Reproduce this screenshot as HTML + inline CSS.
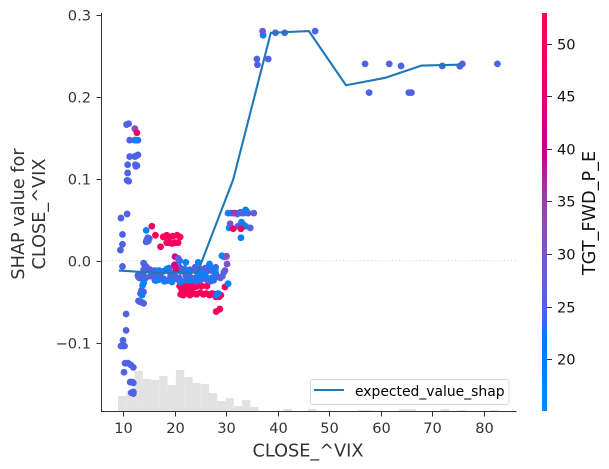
<!DOCTYPE html>
<html lang="en">
<head>
<meta charset="utf-8">
<title>SHAP dependence plot for CLOSE_^VIX</title>
<style>
html,body{margin:0;padding:0;background:#fff;width:609px;height:469px;overflow:hidden}
svg{display:block}
text{font-family:"DejaVu Sans","Liberation Sans",sans-serif}
</style>
</head>
<body>
<svg id="chart" xmlns="http://www.w3.org/2000/svg" width="609" height="469" viewBox="0 0 609 469">
  <defs>
    <linearGradient id="cbar-gradient" x1="0" y1="1" x2="0" y2="0"></linearGradient>
  </defs>
  <g id="hist"></g>
  <line x1="101.5" x2="516" y1="260.7" y2="260.7" stroke="#cccccc" stroke-width="1" stroke-dasharray="1 2.5"></line>
  <g id="dots"></g>
  <polyline id="trend" fill="none" stroke="#1f77b4" stroke-width="2.1" stroke-linejoin="round"></polyline>
  <g id="axes"></g>
  <g>
    <rect x="310.5" y="379.5" width="198.5" height="25" rx="2.5" fill="#fff" fill-opacity="0.85" stroke="#d9d9d9" stroke-width="1"></rect>
    <line x1="314" x2="344" y1="390" y2="390" stroke="#1f77b4" stroke-width="2.1"></line>
    <text x="355" y="396" font-size="13.9" fill="#000">expected_value_shap</text>
  </g>
  <text x="308" y="456.5" font-size="17.7" fill="#333" text-anchor="middle">CLOSE_^VIX</text>
  <text font-size="17.7" fill="#333" text-anchor="middle" transform="translate(24 214) rotate(-90)">SHAP value for</text>
  <text font-size="17.7" fill="#333" text-anchor="middle" transform="translate(45 214) rotate(-90)">CLOSE_^VIX</text>
  <rect x="542" y="13" width="5" height="398" fill="url(#cbar-gradient)"></rect>
  <g id="cbar-axis"></g>
  <text font-size="17.7" fill="#111" text-anchor="middle" transform="translate(595 213) rotate(-90)">TGT_FWD_P_E</text>
</svg>
<script>
const xTicks = [10, 20, 30, 40, 50, 60, 70, 80];
const yTicks = [-0.1, 0, 0.1, 0.2, 0.3];
const yTickLabels = ["\u22120.1", "0.0", "0.1", "0.2", "0.3"];
const cbarTicks = [20, 25, 30, 35, 40, 45, 50];
const histCounts = [15,20,40,32,31,35,26,41,34,28,27,18,10,13,5,11,4,0,0,0,2,0,0,2,0,0,0,0,0,1,1,0,0,0,2,2,0,0,0,2,0,1,0,0,0,1];
const histStart = 9.03;
const histBinWidth = 1.606;
const trendVix = [9.2, 17, 24.4, 24.8, 31.4, 38.7, 46.1, 53.3, 60.9, 68, 75.4];
const trendShap = [-0.012, -0.015, -0.014, -0.009, 0.099, 0.278, 0.280, 0.214, 0.223, 0.238, 0.239];

const redLowVix = [17.8,18.5,19.1,20.5,21.1,18.5,19.5,20.7,20.1,18.9,17.3,15.6,16.3,18.2,19.7,21,21.5,22,22.5,23,23.5,24,24.4,21.3,22,25.3,26.3,21.2,21.7,22.3,23,23.7,24.3,25,25.6,26.2,26.8,27.3,27.9,28.5,29,28,28.7,29.8,28.1,28.8,21.4,22.2,23.1,24.6];
const redLowShap = [0.029,0.031,0.029,0.031,0.029,0.022,0.021,0.022,0.022,0.022,0.017,0.042,0.031,0.03,0.03,-0.031,-0.032,-0.03,-0.033,-0.031,-0.03,-0.032,-0.031,-0.026,-0.027,-0.031,-0.031,-0.041,-0.042,-0.04,-0.042,-0.04,-0.041,-0.039,-0.041,-0.04,-0.042,-0.04,-0.041,-0.043,-0.042,-0.044,-0.044,-0.032,-0.062,-0.059,-0.035,-0.036,-0.035,-0.03];
const redLowPe = 50;

const mainVix = [
  10.7,11.1,11.3,12.3,12.9,11.3,12.3,12.6,12.9,10.9,12.4,12.7,12.5,10.9,10.8,11.1,9.6,10.8,9.9,9.9,9.5,9.9,
  10.6,10.6,10,9.6,10,10.3,10.4,11,11.5,12,10.2,11.4,11.8,12,11.6,12,12,
  12.9,13.2,13.6,14,14.4,13,13.5,14,13.8,13.4,14,13.6,13.3,13.7,14,13,
  14.6,14.9,15.1,14.8,14.5,
  14,14.3,14.6,14,14.9,15.3,15.7,16.2,
  16,16.9,17.8,19.1,19.9,21.2,22.1,22.9,24.2,25,26.1,27.1,28,
  15.3,16.2,17.2,17.9,19.2,20.1,20.9,22.2,23.1,24.1,25.2,26,27.2,27.9,28.6,
  16.2,17,18.2,19,20.2,21,22.1,23,24.1,25,26.2,27,27.6,
  19,21,22,23,24,25,26,27,28,
  31,31.9,32.5,33.1,34.3,34.7,33.4,32.2,32.8,33.5,34,
  36,36.1,38.2,39.6,41.4,47.3,57,57.8,61.7,64,65.5,66,72,75.4,75.9,82.7
];
const mainShap = [
  0.166,0.167,0.147,0.147,0.147,0.127,0.127,0.128,0.129,0.117,0.117,0.116,0.115,0.107,0.098,0.097,0.052,0.057,0.032,0.02,0.013,-0.007,
  -0.065,-0.085,-0.097,-0.104,-0.104,-0.104,-0.125,-0.125,-0.127,-0.13,-0.136,-0.148,-0.148,-0.149,-0.161,-0.16,-0.162,
  -0.018,-0.021,-0.02,-0.018,-0.021,-0.02,-0.017,-0.023,-0.039,-0.04,-0.038,-0.036,-0.05,-0.051,-0.052,-0.049,
  0.025,0.024,0.027,0.028,0.023,
  -0.003,-0.006,-0.008,-0.011,-0.011,-0.011,-0.013,-0.012,
  -0.014,-0.015,-0.013,-0.014,-0.016,-0.013,-0.015,-0.014,-0.013,-0.016,-0.014,-0.012,-0.015,
  -0.019,-0.021,-0.018,-0.022,-0.02,-0.019,-0.021,-0.018,-0.02,-0.021,-0.018,-0.02,-0.021,-0.018,-0.02,
  -0.024,-0.023,-0.025,-0.024,-0.022,-0.025,-0.024,-0.023,-0.025,-0.024,-0.023,-0.025,-0.024,
  -0.009,-0.008,-0.01,-0.011,-0.008,-0.01,-0.009,-0.011,-0.008,
  0.058,0.058,0.058,0.058,0.058,0.04,0.044,0.057,0.059,0.058,0.06,
  0.246,0.239,0.246,0.278,0.278,0.28,0.24,0.205,0.24,0.2375,0.205,0.205,0.2375,0.2372,0.24,0.24
];
const mainPe = 25;

const blueVix = [12.5,14,13.8,13.7,14.5,16.5,18,19.5,21.2,23,24.5,26,27.3,27.9,26.8,25,22.5,21,22.2,24.6,26.8,29.5,29.6,30.4,28.5,28.1,17,18.5,30.4,33.8,30.6,33,33.8,32.9,37.2];
const blueShap = [0.147,-0.027,-0.03,-0.042,0.037,-0.024,-0.025,-0.026,-0.026,-0.024,-0.022,-0.018,-0.022,-0.012,-0.005,-0.015,-0.013,0,-0.002,-0.002,-0.004,0.005,-0.014,-0.028,-0.04,-0.042,-0.012,-0.01,0.058,0.062,0.04,0.047,0.042,0.028,0.275];
const bluePe = 18;

const mixedVix = [12.3,20.1,20.7,20,20.3,30,29.2,30.1,30.2,29.8,29.3,28.9,31.5,35.4,30.8,32.3,34.7,37.1];
const mixedShap = [0.161,0.005,0.003,-0.005,-0.01,0.005,0.006,0.0055,-0.004,-0.012,-0.019,-0.021,0.058,0.058,0.045,0.042,0.04,0.28];
const mixedPe = [33,42,28,42,45,27,18,32,30,28,27,27,35,27,28,25,27,30];

const redTopVix = [12.7,31.4,32.9];
const redTopShap = [0.156,0.039,0.039];
const redTopPe = 50;

const peMin = 15.05;
const peMax = 52.95;
const colorStops = [[15,0,139,251],[22,10,120,242],[25,80,98,228],[28,106,90,216],[32,138,78,196],[36,166,50,172],[40,190,0,156],[45,225,0,118],[50,248,0,92],[53,255,0,81]];

const svgNS = "http://www.w3.org/2000/svg";
function xScale(v){ return 123 + (v - 10) * 5.15; }
function yScale(v){ return 260.7 - v * 820; }
function cScale(v){ return 411 - (v - peMin) / (peMax - peMin) * 398; }
function peColor(v){
  let i = 0;
  while (i < colorStops.length - 2 && v > colorStops[i + 1][0]) i++;
  const a = colorStops[i], b = colorStops[i + 1];
  const t = Math.max(0, Math.min(1, (v - a[0]) / (b[0] - a[0])));
  const ch = k => Math.round(a[k] + (b[k] - a[k]) * t);
  return "rgb(" + ch(1) + "," + ch(2) + "," + ch(3) + ")";
}
function make(tag, attrs){
  const el = document.createElementNS(svgNS, tag);
  for (const k in attrs) el.setAttribute(k, attrs[k]);
  return el;
}

const grad = document.getElementById("cbar-gradient");
for (const s of colorStops) {
  const stop = make("stop", {offset: ((s[0] - peMin) / (peMax - peMin) * 100) + "%", "stop-color": peColor(s[0])});
  grad.appendChild(stop);
}

const histG = document.getElementById("hist");
histCounts.forEach((count, i) => {
  if (!count) return;
  const x0 = xScale(histStart + i * histBinWidth);
  const x1 = xScale(histStart + (i + 1) * histBinWidth);
  const r = make("rect", {x: x0, y: 411 - count, width: x1 - x0, height: count, fill: "#e2e2e2"});
  
  
  histG.appendChild(r);
});

const dotsG = document.getElementById("dots");
function drawSeries(vix, shap, pe){
  vix.forEach((v, i) => {
    const p = Array.isArray(pe) ? pe[i] : pe;
    const c = make("circle", {cx: xScale(v), cy: yScale(shap[i]), r: 3.4, fill: peColor(p)});
    
    
    dotsG.appendChild(c);
  });
}
drawSeries(redLowVix, redLowShap, redLowPe);
drawSeries(mainVix, mainShap, mainPe);
drawSeries(blueVix, blueShap, bluePe);
drawSeries(mixedVix, mixedShap, mixedPe);
drawSeries(redTopVix, redTopShap, redTopPe);

document.getElementById("trend").setAttribute("points", trendVix.map((v, i) => xScale(v) + "," + yScale(trendShap[i])).join(" "));

const axes = document.getElementById("axes");
const leftSpine = make("line", {x1: 101.5, x2: 101.5, y1: 13, y2: 411.5, stroke: "#333", "stroke-width": 1});


axes.appendChild(leftSpine);
const bottomSpine = make("line", {x1: 101, x2: 516.5, y1: 411.5, y2: 411.5, stroke: "#333", "stroke-width": 1});


axes.appendChild(bottomSpine);

xTicks.forEach(t => {
  const x = Math.round(xScale(t)) + 0.5;
  const mark = make("line", {x1: x, x2: x, y1: 411.5, y2: 416.5, stroke: "#333", "stroke-width": 1});
  
  
  axes.appendChild(mark);
  const label = make("text", {x: x, y: 433, "font-size": 14.6, fill: "#333", "text-anchor": "middle"});
  
  
  label.textContent = String(t);
  axes.appendChild(label);
});
yTicks.forEach((t, i) => {
  const y = Math.round(yScale(t)) + 0.5;
  const mark = make("line", {x1: 96.5, x2: 101.5, y1: y, y2: y, stroke: "#333", "stroke-width": 1});
  
  
  axes.appendChild(mark);
  const label = make("text", {x: 91, y: y + 5, "font-size": 14.6, fill: "#333", "text-anchor": "end"});
  
  
  label.textContent = yTickLabels[i];
  axes.appendChild(label);
});

const cbarAxis = document.getElementById("cbar-axis");
cbarTicks.forEach(t => {
  const y = Math.round(cScale(t)) + 0.5;
  const mark = make("line", {x1: 547, x2: 552, y1: y, y2: y, stroke: "#333", "stroke-width": 1});
  
  
  cbarAxis.appendChild(mark);
  const label = make("text", {x: 557, y: y + 5, "font-size": 14.6, fill: "#111"});
  
  
  label.textContent = String(t);
  cbarAxis.appendChild(label);
});
</script>
</body>
</html>
